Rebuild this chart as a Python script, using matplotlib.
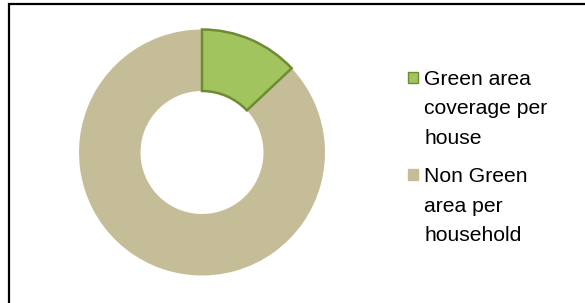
import matplotlib
matplotlib.use("Agg")
import matplotlib.pyplot as plt
from matplotlib.patches import Rectangle

categories = ["Green area\ncoverage per\nhouse", "Non Green\narea per\nhousehold"]
values = [13, 87]
colors = ["#A2C45E", "#C4BD97"]
edge_colors = ["#6F8B32", "#C4BD97"]

W, H = 585, 303
fig = plt.figure(figsize=(W / 100, H / 100), dpi=100)
plt.rcParams['font.family'] = ['Liberation Sans', 'DejaVu Sans']

# outer frame (extends beyond right/bottom edges)
fig.patches.append(Rectangle((8.5 / W, -0.2), 1.2, 1 - 3.5 / H + 0.2,
                             transform=fig.transFigure, fill=False,
                             edgecolor="black", linewidth=1.6))

cx, cy, r = 202, 152.5, 123
ax = fig.add_axes([(cx - r) / W, (H - cy - r) / H, 2 * r / W, 2 * r / H])
wedges, _ = ax.pie(values, colors=colors, startangle=90, counterclock=False,
                   radius=1.0, wedgeprops=dict(width=0.5, linewidth=0))
# bevel-like edge on green slice
wedges[0].set_edgecolor(edge_colors[0])
wedges[0].set_linewidth(1.8)
wedges[0].set_zorder(3)
ax.set_xlim(-1, 1)
ax.set_ylim(-1, 1)
ax.set_aspect("equal")
ax.axis("off")

# manual legend (handle aligned to first text line)
legend_tops = [70, 167]
for lab, col, ec, top in zip(categories, colors, edge_colors, legend_tops):
    fig.patches.append(Rectangle((408 / W, 1 - (top + 13) / H), 10 / W, 11 / H,
                                 transform=fig.transFigure, facecolor=col,
                                 edgecolor=ec, linewidth=1.0))
    fig.text(424 / W, 1 - (top + 0) / H, lab, fontsize=15.2, ha="left", va="top",
             linespacing=1.7, color="black")

fig.savefig("out.png", dpi=100)
